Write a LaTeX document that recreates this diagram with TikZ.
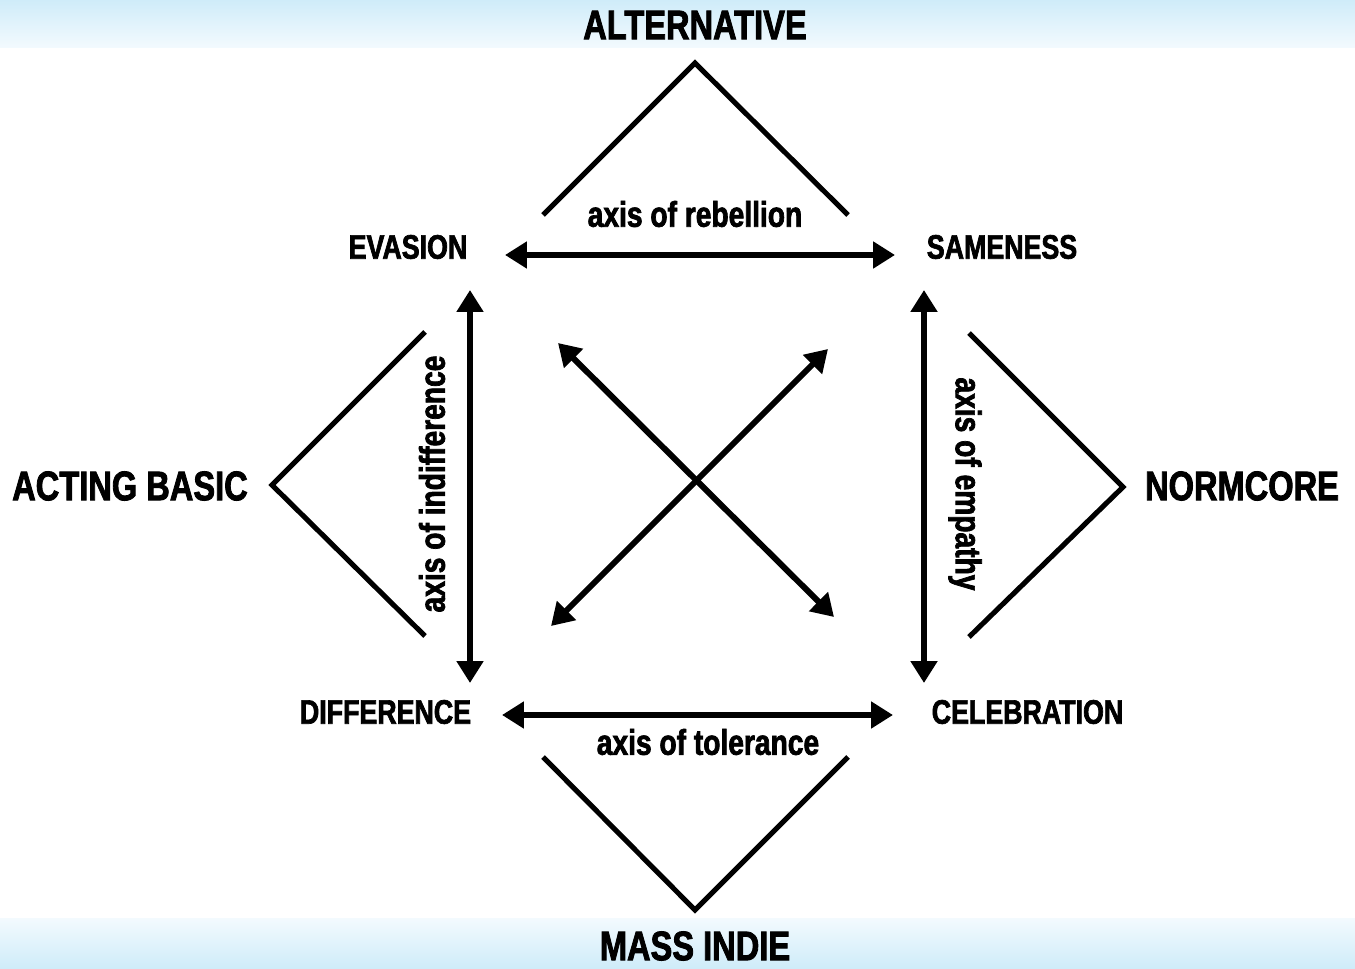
\documentclass[tikz,border=0pt]{standalone}
\usepackage{fontspec}
\newfontfamily\cond[FakeStretch=0.79,FakeBold=2]{Liberation Sans Bold}
\usetikzlibrary{arrows.meta}
\begin{document}
\begin{tikzpicture}[x=0.02cm,y=0.02cm,
  big/.style={font=\cond\fontsize{23.5}{26}\selectfont, inner sep=0pt},
  mid/.style={font=\cond\fontsize{19.3}{22}\selectfont, inner sep=0pt},
  axislbl/.style={font=\cond\fontsize{20.3}{23}\selectfont, inner sep=0pt},
  tri/.style={line width=2.9pt, line join=miter},
  dbl/.style={line width=3.4pt, {Triangle[length=12.5pt,width=14.7pt]}-{Triangle[length=12.5pt,width=14.7pt]}}]
\useasboundingbox (0,0) rectangle (1355,968);
\fill[white] (0,0) rectangle (1355,968);
\shade[top color={rgb,255:red,207;green,236;blue,249}, bottom color={rgb,255:red,243;green,250;blue,254}] (0,920) rectangle (1355,968);
\shade[bottom color={rgb,255:red,207;green,236;blue,249}, top color={rgb,255:red,243;green,250;blue,254}] (0,0) rectangle (1355,50);

% outer labels
\node[big] (alt) at (695,943) {ALTERNATIVE};
\node[big] (mass) at (695,22) {MASS INDIE};
\node[big] (act) at (130,482) {ACTING BASIC};
\node[big] (norm) at (1242,482) {NORMCORE};

% corner labels
\node[mid] (eva) at (408,721) {EVASION};
\node[mid] (same) at (1002,721) {SAMENESS};
\node[mid] (diff) at (385.5,256) {DIFFERENCE};
\node[mid] (cele) at (1027.5,256) {CELEBRATION};

% axis labels
\node[axislbl] (reb) at (695,754) {axis of rebellion};
\node[axislbl] (tol) at (708,226) {axis of tolerance};
\node[axislbl, rotate=90] (ind) at (432,484) {axis of indifference};
\node[axislbl, rotate=-90] (emp) at (965,484) {axis of empathy};

% triangle vertices
\coordinate (t1) at (543,753); \coordinate (t2) at (695,905); \coordinate (t3) at (848,753);
\coordinate (b1) at (543,211); \coordinate (b2) at (695,58); \coordinate (b3) at (848,211);
\coordinate (l1) at (425,636); \coordinate (l2) at (272,483); \coordinate (l3) at (425,332);
\coordinate (r1) at (969,635); \coordinate (r2) at (1123,481); \coordinate (r3) at (969,331);
\draw[tri] (t1) -- (t2) -- (t3);
\draw[tri] (b1) -- (b2) -- (b3);
\draw[tri] (l1) -- (l2) -- (l3);
\draw[tri] (r1) -- (r2) -- (r3);

% arrow ends
\coordinate (tA) at (505,713); \coordinate (tB) at (895,713);
\coordinate (bA) at (502,253); \coordinate (bB) at (893,253);
\coordinate (lA) at (470,678); \coordinate (lB) at (470,285);
\coordinate (rA) at (924,678); \coordinate (rB) at (924,285);
\coordinate (x1) at (558,625); \coordinate (x2) at (834,351);
\coordinate (x3) at (828,619); \coordinate (x4) at (551,342);
\draw[dbl] (tA) -- (tB);
\draw[dbl] (bA) -- (bB);
\draw[dbl] (lA) -- (lB);
\draw[dbl] (rA) -- (rB);
\draw[dbl] (x1) -- (x2);
\draw[dbl] (x3) -- (x4);
\end{tikzpicture}
\end{document}
